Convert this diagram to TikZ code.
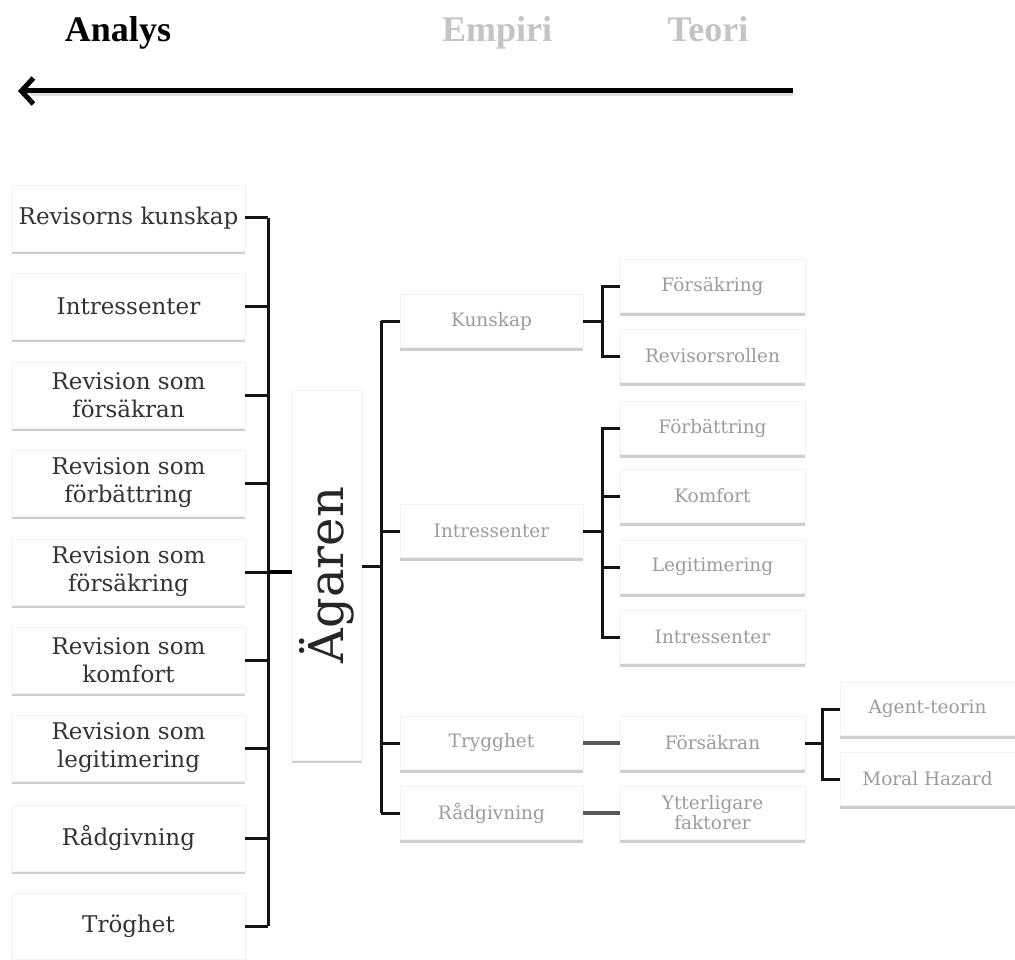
\documentclass[tikz,border=0pt]{standalone}
\usepackage{fontspec}
\setmainfont{DejaVu Serif}
\newfontfamily\headfont{Liberation Serif}
\usetikzlibrary{arrows.meta,shadows,calc}
\definecolor{lefttext}{HTML}{333333}
\definecolor{paletext}{HTML}{9C9C9C}
\definecolor{headgray}{HTML}{C4C4C4}
\tikzset{
  box/.style={fill=white, draw=black!5, line width=0.6pt, align=center,
    inner sep=2pt,
    drop shadow={shadow xshift=0pt, shadow yshift=-3pt, fill=black!35, opacity=.55}},
  leftbox/.style={box, minimum width=233pt, minimum height=66pt,
    font=\fontsize{23}{28}\selectfont, text=lefttext},
  midbox/.style={box, minimum width=183pt, minimum height=53pt,
    font=\fontsize{18.5}{20}\selectfont, text=paletext},
  rightbox/.style={box, minimum width=185pt, minimum height=53pt,
    font=\fontsize{18.5}{20}\selectfont, text=paletext},
  farbox/.style={box, minimum width=175pt, minimum height=53pt,
    font=\fontsize{18.5}{20}\selectfont, text=paletext},
  conn/.style={draw=black!92, line width=3pt},
  link/.style={draw=black!65, line width=3.6pt},
  heading/.style={font=\headfont\bfseries\fontsize{36}{40}\selectfont, inner sep=0pt, anchor=base}
}
\begin{document}
\begin{tikzpicture}[x=1pt,y=-1pt]
\useasboundingbox (0,0) rectangle (1015,960);
\fill[white] (0,0) rectangle (1015,960);

% reading direction
\node[heading, text=black] (analys) at (118,42) {Analys};
\node[heading, text=headgray] (empiri) at (497,42) {Empiri};
\node[heading, text=headgray] (teori) at (708,42) {Teori};
\coordinate (arrS) at (793,91);
\coordinate (arrE) at (18,91);
\draw[black!12, line width=5pt] ($(arrS)+(0,3)$) -- ($(arrE)+(12,3)$);
\draw[line width=5pt, -{Straight Barb[length=12pt,width=26pt]}] (arrS) -- (arrE);

% left column
\node[leftbox] (l1) at (128.5,218) {Revisorns kunskap};
\node[leftbox] (l2) at (128.5,306) {Intressenter};
\node[leftbox] (l3) at (128.5,395) {Revision som\\försäkran};
\node[leftbox] (l4) at (128.5,483) {Revision som\\förbättring};
\node[leftbox] (l5) at (128.5,572) {Revision som\\försäkring};
\node[leftbox] (l6) at (128.5,660) {Revision som\\komfort};
\node[leftbox] (l7) at (128.5,748) {Revision som\\legitimering};
\node[leftbox] (l8) at (128.5,838) {Rådgivning};
\node[leftbox] (l9) at (128.5,926) {Tröghet};

% central owner box
\node[box, minimum width=70pt, minimum height=370pt, text=black!85] (ag) at (327,575)
  {\rotatebox{90}{\fontsize{48}{50}\selectfont Ägaren}};

% middle column
\node[midbox] (m1) at (491.5,321) {Kunskap};
\node[midbox] (m2) at (491.5,531) {Intressenter};
\node[midbox] (m3) at (491.5,743) {Trygghet};
\node[midbox] (m4) at (491.5,813) {Rådgivning};

% third column
\node[rightbox] (r1) at (712.5,286) {Försäkring};
\node[rightbox] (r2) at (712.5,356) {Revisorsrollen};
\node[rightbox] (r3) at (712.5,428) {Förbättring};
\node[rightbox] (r4) at (712.5,496) {Komfort};
\node[rightbox] (r5) at (712.5,567) {Legitimering};
\node[rightbox] (r6) at (712.5,637) {Intressenter};
\node[rightbox] (r7) at (712.5,743) {Försäkran};
\node[rightbox] (r8) at (712.5,813) {Ytterligare\\faktorer};

% fourth column
\node[farbox] (f1) at (927.5,709) {Agent-teorin};
\node[farbox] (f2) at (927.5,779) {Moral Hazard};

% left bus
\coordinate (busL) at (268,0);
\foreach \n in {l1,l2,l3,l4,l5,l6,l7,l8,l9}
  \draw[conn] (\n.east) -- (\n.east -| busL);
\draw[conn] (l1.east -| busL) -- (l9.east -| busL);
\draw[draw=black, line width=4.8pt] (l5.east -| busL) -- (l5.east -| ag.west);

% right bus
\coordinate (busR) at (381,0);
\draw[conn] ($(ag.east)+(0,-9)$) -- ($(ag.east -| busR)+(0,-9)$);
\foreach \n in {m1,m2,m3,m4}
  \draw[conn] (\n.west) -- (\n.west -| busR);
\draw[conn] (m1.west -| busR) -- (m4.west -| busR);

% Kunskap branch
\coordinate (bk) at (602,0);
\draw[conn] (m1.east) -- (m1.east -| bk);
\draw[conn] (r1.west) -- (r1.west -| bk) -- (r2.west -| bk) -- (r2.west);

% Intressenter branch
\draw[conn] (m2.east) -- (m2.east -| bk);
\draw[conn] (r3.west) -- (r3.west -| bk) -- (r6.west -| bk) -- (r6.west);
\draw[conn] (r4.west) -- (r4.west -| bk);
\draw[conn] (r5.west) -- (r5.west -| bk);

% direct links
\draw[link] (m3.east) -- (r7.west);
\draw[link] (m4.east) -- (r8.west);

% Försäkran branch
\coordinate (bf) at (822,0);
\draw[conn] (r7.east) -- (r7.east -| bf);
\draw[conn] (f1.west) -- (f1.west -| bf) -- (f2.west -| bf) -- (f2.west);
\end{tikzpicture}
\end{document}
